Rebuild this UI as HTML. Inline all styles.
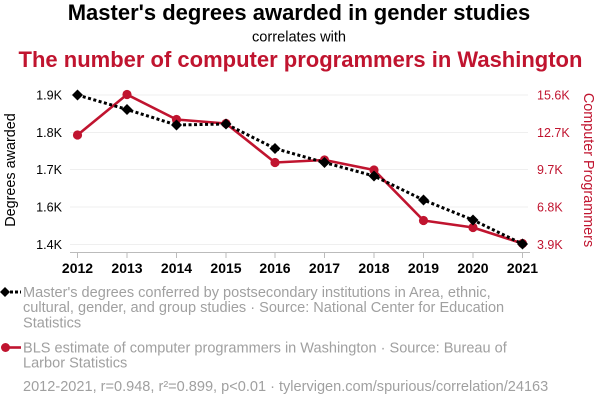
<!DOCTYPE html>
<html><head><meta charset="utf-8"><style>
html,body{margin:0;padding:0;background:#fff;}
svg{display:block;font-family:"Liberation Sans",Arial,sans-serif;}
</style></head><body>
<svg width="600" height="408" viewBox="0 0 600 408" xmlns="http://www.w3.org/2000/svg">
<rect width="600" height="408" fill="#fff"/>
<text x="299" y="20" font-size="22" font-weight="bold" text-anchor="middle" fill="#000">Master's degrees awarded in gender studies</text>
<text x="299" y="41.5" font-size="14.6" text-anchor="middle" fill="#000">correlates with</text>
<text x="300.5" y="67" font-size="22" font-weight="bold" text-anchor="middle" fill="#c0142f">The number of computer programmers in Washington</text>

<g stroke="#efefef" stroke-width="1">
<line x1="70" y1="95" x2="528" y2="95"/>
<line x1="70" y1="132.5" x2="528" y2="132.5"/>
<line x1="70" y1="169.5" x2="528" y2="169.5"/>
<line x1="70" y1="207" x2="528" y2="207"/>
<line x1="70" y1="244.5" x2="528" y2="244.5"/>
</g>
<line x1="70" y1="252.5" x2="530" y2="252.5" stroke="#bbb" stroke-width="1"/>
<g stroke="#bbb" stroke-width="1">
<line x1="77.5" y1="252" x2="77.5" y2="258"/>
<line x1="127" y1="252" x2="127" y2="258"/>
<line x1="176.5" y1="252" x2="176.5" y2="258"/>
<line x1="226" y1="252" x2="226" y2="258"/>
<line x1="275" y1="252" x2="275" y2="258"/>
<line x1="324.5" y1="252" x2="324.5" y2="258"/>
<line x1="374" y1="252" x2="374" y2="258"/>
<line x1="423.5" y1="252" x2="423.5" y2="258"/>
<line x1="473" y1="252" x2="473" y2="258"/>
<line x1="522.5" y1="252" x2="522.5" y2="258"/>
</g>
<g font-size="14" font-weight="bold" text-anchor="middle" fill="#000">
<text x="77.5" y="273">2012</text>
<text x="127" y="273">2013</text>
<text x="176.5" y="273">2014</text>
<text x="226" y="273">2015</text>
<text x="275" y="273">2016</text>
<text x="324.5" y="273">2017</text>
<text x="374" y="273">2018</text>
<text x="423.5" y="273">2019</text>
<text x="473" y="273">2020</text>
<text x="522.5" y="273">2021</text>
</g>
<g font-size="12.6" text-anchor="end" fill="#000">
<text x="62" y="99.5">1.9K</text>
<text x="62" y="137">1.8K</text>
<text x="62" y="174">1.7K</text>
<text x="62" y="211.5">1.6K</text>
<text x="62" y="249">1.4K</text>
</g>
<g font-size="12.5" text-anchor="start" fill="#c0142f">
<text x="537" y="99.5">15.6K</text>
<text x="537" y="137">12.7K</text>
<text x="537" y="174">9.7K</text>
<text x="537" y="211.5">6.8K</text>
<text x="537" y="249">3.9K</text>
</g>
<text transform="translate(15,170) rotate(-90)" font-size="14.4" text-anchor="middle" fill="#000">Degrees awarded</text>
<text transform="translate(584,170) rotate(90)" font-size="14.4" text-anchor="middle" fill="#c0142f">Computer Programmers</text>

<polyline fill="none" stroke="#c0142f" stroke-width="2.6" stroke-linejoin="round" points="77.5,135 127,94.5 176.5,119.5 226,123.5 275,162.5 324.5,160 374,170 423.5,220.5 473,227.5 522.5,243.5"/>
<g fill="#c0142f">
<circle cx="77.5" cy="135" r="4.6"/>
<circle cx="127" cy="94.5" r="4.6"/>
<circle cx="176.5" cy="119.5" r="4.6"/>
<circle cx="226" cy="123.5" r="4.6"/>
<circle cx="275" cy="162.5" r="4.6"/>
<circle cx="324.5" cy="160" r="4.6"/>
<circle cx="374" cy="170" r="4.6"/>
<circle cx="423.5" cy="220.5" r="4.6"/>
<circle cx="473" cy="227.5" r="4.6"/>
<circle cx="522.5" cy="243.5" r="4.6"/>
</g>
<polyline fill="none" stroke="#000" stroke-width="3" stroke-dasharray="3,2.5" points="77.5,95 127,109.5 176.5,125 226,124 275,148.5 324.5,162.5 374,176 423.5,200 473,220 522.5,244"/>
<g fill="#000">
<path d="M77.5,89.5 L83,95 L77.5,100.5 L72,95 Z"/>
<path d="M127,104 L132.5,109.5 L127,115 L121.5,109.5 Z"/>
<path d="M176.5,119.5 L182,125 L176.5,130.5 L171,125 Z"/>
<path d="M226,118.5 L231.5,124 L226,129.5 L220.5,124 Z"/>
<path d="M275,143 L280.5,148.5 L275,154 L269.5,148.5 Z"/>
<path d="M324.5,157 L330,162.5 L324.5,168 L319,162.5 Z"/>
<path d="M374,170.5 L379.5,176 L374,181.5 L368.5,176 Z"/>
<path d="M423.5,194.5 L429,200 L423.5,205.5 L418,200 Z"/>
<path d="M473,214.5 L478.5,220 L473,225.5 L467.5,220 Z"/>
<path d="M522.5,238.5 L528,244 L522.5,249.5 L517,244 Z"/>
</g>

<line x1="5" y1="292" x2="21" y2="292" stroke="#000" stroke-width="3" stroke-dasharray="3,2"/>
<path d="M5,287 L10,292 L5,297 L0,292 Z" fill="#000"/>
<line x1="5" y1="347.5" x2="21" y2="347.5" stroke="#c0142f" stroke-width="2.6"/>
<circle cx="5.5" cy="347.5" r="4.5" fill="#c0142f"/>

<g font-size="14.55" fill="#a0a0a0">
<text x="23" y="297">Master's degrees conferred by postsecondary institutions in Area, ethnic,</text>
<text x="23" y="312">cultural, gender, and group studies · Source: National Center for Education</text>
<text x="23" y="327.5">Statistics</text>
<text x="23" y="352.5">BLS estimate of computer programmers in Washington · Source: Bureau of</text>
<text x="23" y="367.5">Larbor Statistics</text>
<text x="23" y="391">2012-2021, r=0.948, r²=0.899, p&lt;0.01 · tylervigen.com/spurious/correlation/24163</text>
</g>
</svg>
</body></html>
